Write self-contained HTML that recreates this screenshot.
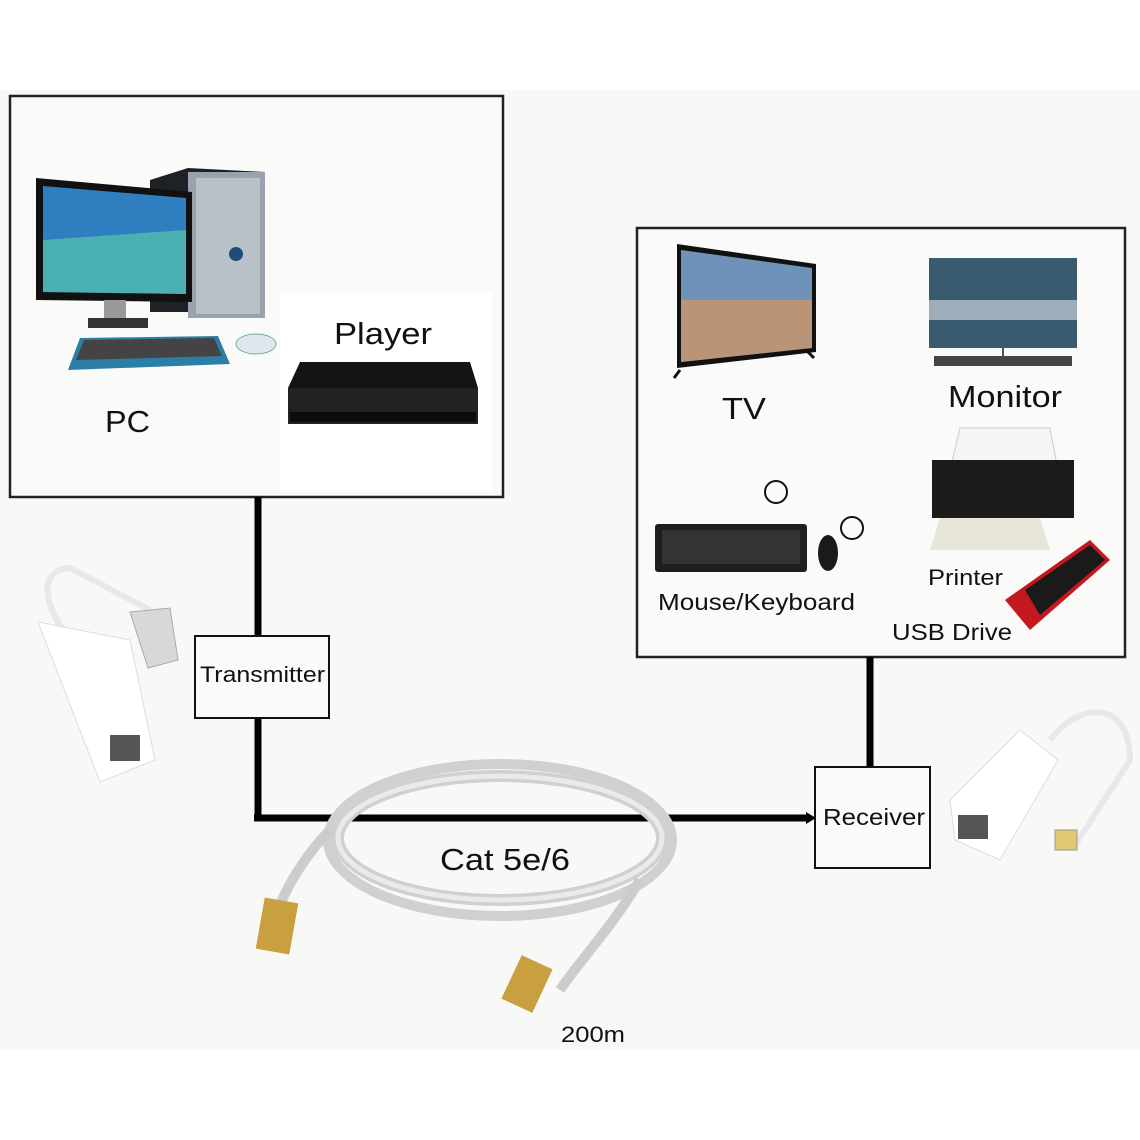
<!DOCTYPE html>
<html><head><meta charset="utf-8"><style>
html,body{margin:0;padding:0;background:#fff}
svg{display:block}
text{font-family:"Liberation Sans",Arial,sans-serif;fill:#111}
</style></head><body>
<svg width="1140" height="1140" viewBox="0 0 1140 1140" xmlns="http://www.w3.org/2000/svg">
<rect x="0" y="0" width="1140" height="1140" fill="#fff"/>
<rect x="0" y="90" width="1140" height="960" fill="#f8f8f6"/>
<!-- left box -->
<rect x="10" y="96" width="493" height="401" fill="#fafaf9" stroke="#222" stroke-width="2.5"/>
<rect x="280" y="292" width="212" height="200" fill="#fff"/>
<!-- PC tower -->
<polygon points="150,180 188,168 265,172 265,318 188,312 150,312" fill="#1e2227"/>
<rect x="188" y="172" width="77" height="146" fill="#9aa3ad"/>
<rect x="196" y="178" width="64" height="136" fill="#b8c0c8"/>
<circle cx="236" cy="254" r="7" fill="#1f4d7a"/>
<!-- monitor -->
<polygon points="36,178 192,192 192,302 36,300" fill="#111"/>
<polygon points="43,186 186,198 186,294 43,292" fill="#2f7fc0"/>
<polygon points="43,240 186,230 186,294 43,292" fill="#5fd0a8" opacity="0.6"/>
<rect x="104" y="300" width="22" height="22" fill="#999"/>
<rect x="88" y="318" width="60" height="10" fill="#333"/>
<!-- keyboard -->
<polygon points="80,338 218,336 230,364 68,370" fill="#2b7fa6"/>
<polygon points="84,340 214,338 222,356 76,360" fill="#444"/>
<ellipse cx="256" cy="344" rx="20" ry="10" fill="#dfe7ee" stroke="#7aa" />
<!-- player -->
<polygon points="300,362 470,362 478,388 478,424 288,424 288,388" fill="#141414"/>
<rect x="288" y="388" width="190" height="36" fill="#222"/>
<rect x="290" y="412" width="186" height="10" fill="#0c0c0c"/>
<text x="105" y="432" font-size="31" textLength="45" lengthAdjust="spacingAndGlyphs">PC</text>
<text x="334" y="344" font-size="31" textLength="98" lengthAdjust="spacingAndGlyphs">Player</text>
<!-- right box -->
<rect x="637" y="228" width="488" height="429" fill="#fafaf9" stroke="#222" stroke-width="2.5"/>
<!-- TV -->
<polygon points="677,244 816,264 816,352 677,368" fill="#111"/>
<polygon points="681,250 812,268 812,348 681,362" fill="#6f93b8"/>
<polygon points="681,300 812,300 812,348 681,362" fill="#d8945a" opacity="0.7"/>
<line x1="680" y1="370" x2="674" y2="378" stroke="#111" stroke-width="3"/>
<line x1="808" y1="352" x2="814" y2="358" stroke="#111" stroke-width="3"/>
<text x="722" y="419" font-size="31" textLength="44" lengthAdjust="spacingAndGlyphs">TV</text>
<!-- monitor -->
<rect x="929" y="258" width="148" height="90" fill="#3a5a70"/>
<rect x="929" y="300" width="148" height="20" fill="#b7c2cc" opacity="0.8"/>
<line x1="1003" y1="348" x2="1003" y2="358" stroke="#555" stroke-width="2"/>
<rect x="934" y="356" width="138" height="10" fill="#444"/>
<text x="948" y="407" font-size="31" textLength="114" lengthAdjust="spacingAndGlyphs">Monitor</text>
<!-- printer -->
<polygon points="960,428 1050,428 1058,470 950,470" fill="#f5f5f5" stroke="#ccc"/>
<rect x="932" y="460" width="142" height="58" fill="#1b1b1b"/>
<polygon points="940,518 1040,518 1050,550 930,550" fill="#e8e6d8"/>
<text x="928" y="585" font-size="22" textLength="75" lengthAdjust="spacingAndGlyphs">Printer</text>
<!-- keyboard + mouse -->
<rect x="655" y="524" width="152" height="48" rx="3" fill="#1e1e1e"/>
<rect x="662" y="530" width="138" height="34" fill="#333"/>
<ellipse cx="828" cy="553" rx="10" ry="18" fill="#1a1a1a"/>
<circle cx="776" cy="492" r="11" fill="none" stroke="#111" stroke-width="2"/>
<circle cx="852" cy="528" r="11" fill="none" stroke="#111" stroke-width="2"/>
<text x="658" y="610" font-size="23" textLength="197" lengthAdjust="spacingAndGlyphs">Mouse/Keyboard</text>
<!-- usb drive -->
<polygon points="1005,600 1090,540 1110,560 1030,630" fill="#c41820"/>
<polygon points="1025,590 1090,545 1105,560 1040,615" fill="#1a1a1a"/>
<text x="892" y="640" font-size="23" textLength="120" lengthAdjust="spacingAndGlyphs">USB Drive</text>
<!-- connectors -->
<line x1="258" y1="497" x2="258" y2="636" stroke="#000" stroke-width="7"/>
<line x1="258" y1="718" x2="258" y2="818" stroke="#000" stroke-width="7"/>
<line x1="254" y1="818" x2="808" y2="818" stroke="#000" stroke-width="7"/>
<polygon points="806,812 816,818 806,824" fill="#000"/>
<line x1="870" y1="657" x2="870" y2="767" stroke="#000" stroke-width="7"/>
<rect x="195" y="636" width="134" height="82" fill="#fafaf9" stroke="#111" stroke-width="2"/>
<text x="200" y="682" font-size="22" textLength="125" lengthAdjust="spacingAndGlyphs">Transmitter</text>
<rect x="815" y="767" width="115" height="101" fill="#fafaf9" stroke="#111" stroke-width="2"/>
<text x="823" y="825" font-size="23" textLength="102" lengthAdjust="spacingAndGlyphs">Receiver</text>
<!-- cable -->
<ellipse cx="500" cy="838" rx="162" ry="62" fill="none" stroke="#d0d0d0" stroke-width="12"/>
<ellipse cx="500" cy="838" rx="162" ry="62" fill="none" stroke="#eaeaea" stroke-width="5"/>
<ellipse cx="500" cy="840" rx="172" ry="76" fill="none" stroke="#d0d0d0" stroke-width="10"/>
<path d="M330,830 C310,850 290,880 280,905" fill="none" stroke="#ccc" stroke-width="10"/>
<path d="M640,880 C610,930 580,960 560,990" fill="none" stroke="#ccc" stroke-width="10"/>
<rect x="260" y="900" width="34" height="52" fill="#c8a040" transform="rotate(10 277 926)"/>
<rect x="510" y="960" width="34" height="48" fill="#c8a040" transform="rotate(25 527 984)"/>
<text x="440" y="870" font-size="31" textLength="130" lengthAdjust="spacingAndGlyphs">Cat 5e/6</text>
<text x="561" y="1042" font-size="22" textLength="64" lengthAdjust="spacingAndGlyphs">200m</text>
<!-- left adapter -->
<path d="M70,640 C40,600 40,570 70,568 L150,610" fill="none" stroke="#e8e8e8" stroke-width="6"/>
<polygon points="130,612 170,608 178,660 148,668" fill="#d8d8d8" stroke="#aaa"/>
<polygon points="38,622 130,640 155,760 100,782" fill="#fff" stroke="#ddd"/>
<rect x="110" y="735" width="30" height="26" fill="#555"/>
<!-- right adapter -->
<path d="M1050,740 C1080,700 1130,700 1130,760 L1075,845" fill="none" stroke="#e8e8e8" stroke-width="6"/>
<polygon points="950,800 1020,730 1058,760 1000,860 955,840" fill="#fff" stroke="#ddd"/>
<rect x="958" y="815" width="30" height="24" fill="#555"/>
<rect x="1055" y="830" width="22" height="20" fill="#e0c870" stroke="#999"/>
</svg>
</body></html>
